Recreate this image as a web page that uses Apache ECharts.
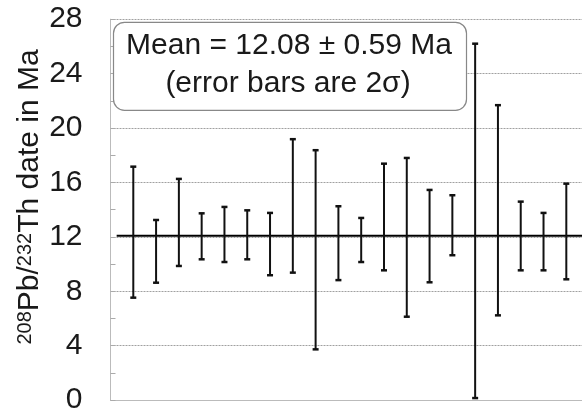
<!DOCTYPE html>
<html><head><meta charset="utf-8">
<script src="https://cdn.jsdelivr.net/npm/echarts@6/dist/echarts.min.js"></script>
<style>html,body{margin:0;padding:0;background:#fff}#c{width:582px;height:418px}</style>
</head><body><div id="c"></div>
<script>
// Sample numbers (x positions along the hidden axis)
const samples = [1,2,3,4,5,6,7,8,9,10,11,12,13,14,15,16,17,18,19,20];
// Upper and lower ends of each 2-sigma error bar (Ma)
const upper = [17.16, 13.24, 16.26, 13.73, 14.2, 13.95, 13.76, 19.18, 18.37, 14.25, 13.39, 17.38, 17.8, 15.45, 15.06, 26.2, 21.68, 14.59, 13.76, 15.91];
const lower = [7.53, 8.63, 9.86, 10.35, 10.15, 10.35, 9.18, 9.37, 3.73, 8.82, 10.15, 9.54, 6.13, 8.66, 10.65, 0.15, 6.23, 9.54, 9.54, 8.88];
// Weighted mean
const meanValue = 12.08;
const meanError = 0.59;
const meanLineX = [0.27, 21];
// Axis ticks
const yTicks = [0, 4, 8, 12, 16, 20, 24, 28];

const FONT = 'Liberation Sans, Arial, sans-serif';
const chart = echarts.init(document.getElementById('c'));
const barData = samples.map((s, i) => [s, lower[i], upper[i]]);

chart.setOption({
  animation: false,
  backgroundColor: '#fff',
  grid: { left: 110.5, top: 19.2, width: 478.6, height: 380.9, containLabel: false, outerBoundsMode: 'none' },
  xAxis: {
    type: 'value', min: 0, max: 21,
    axisLine: { show: true, lineStyle: { color: '#bbb', width: 1 } },
    axisTick: { show: false }, axisLabel: { show: false }, splitLine: { show: false }
  },
  yAxis: {
    type: 'value', min: yTicks[0], max: yTicks[yTicks.length - 1], interval: yTicks[1] - yTicks[0],
    axisLine: { show: true, lineStyle: { color: '#bbb', width: 1 } },
    axisTick: { show: true, inside: true, length: 5, lineStyle: { color: '#aaa' } },
    minorTick: { show: true, splitNumber: 2, length: 5, lineStyle: { color: '#aaa' } },
    axisLabel: { fontFamily: FONT, fontSize: 30, color: '#1a1a1a', margin: 28 },
    splitLine: { show: true, lineStyle: { color: '#a0a0a0', type: [2, 1], width: 1 } }
  },
  series: [
    {
      type: 'line', data: meanLineX.map(x => [x, meanValue]),
      symbol: 'none', lineStyle: { color: '#000', width: 2 }, silent: true, z: 3
    },
    {
      type: 'custom', data: barData, z: 4,
      renderItem(params, api) {
        const x = api.value(0), lo = api.value(1), hi = api.value(2);
        const pH = api.coord([x, hi]), pL = api.coord([x, lo]);
        const c = 3, st = { stroke: '#111', lineWidth: 2 };
        const cs = { stroke: '#111', lineWidth: 2.5 };
        return { type: 'group', children: [
          { type: 'line', shape: { x1: pH[0], y1: pH[1], x2: pL[0], y2: pL[1] }, style: st },
          { type: 'line', shape: { x1: pH[0] - c, y1: pH[1], x2: pH[0] + c, y2: pH[1] }, style: cs },
          { type: 'line', shape: { x1: pL[0] - c, y1: pL[1], x2: pL[0] + c, y2: pL[1] }, style: cs }
        ] };
      }
    }
  ],
  graphic: [
    { type: 'text', z: 11, x: 30, y: 197, rotation: Math.PI / 2,
      style: {
        text: '{sup|208}{m|Pb/}{sup|232}{m|Th date in Ma}',
        align: 'center', verticalAlign: 'middle',
        rich: {
          m: { fontFamily: FONT, fontSize: 30, fill: '#1a1a1a', lineHeight: 30 },
          sup: { fontFamily: FONT, fontSize: 20, fill: '#1a1a1a', lineHeight: 20, verticalAlign: 'top' }
        }
      } },
    { type: 'rect', z: 10, shape: { x: 113.5, y: 22.3, width: 353, height: 88, r: 11 },
      style: { fill: '#fff', stroke: '#888', lineWidth: 1.2 } },
    { type: 'text', z: 11, x: 289, y: 46,
      style: { text: 'Mean = ' + meanValue.toFixed(2) + ' \u00B1 ' + meanError.toFixed(2) + ' Ma',
        font: '30px ' + FONT, fill: '#1a1a1a', align: 'center', verticalAlign: 'middle' } },
    { type: 'text', z: 11, x: 288, y: 84,
      style: { text: '(error bars are 2\u03C3)',
        font: '30px ' + FONT, fill: '#1a1a1a', align: 'center', verticalAlign: 'middle' } }
  ]
});
</script></body></html>
